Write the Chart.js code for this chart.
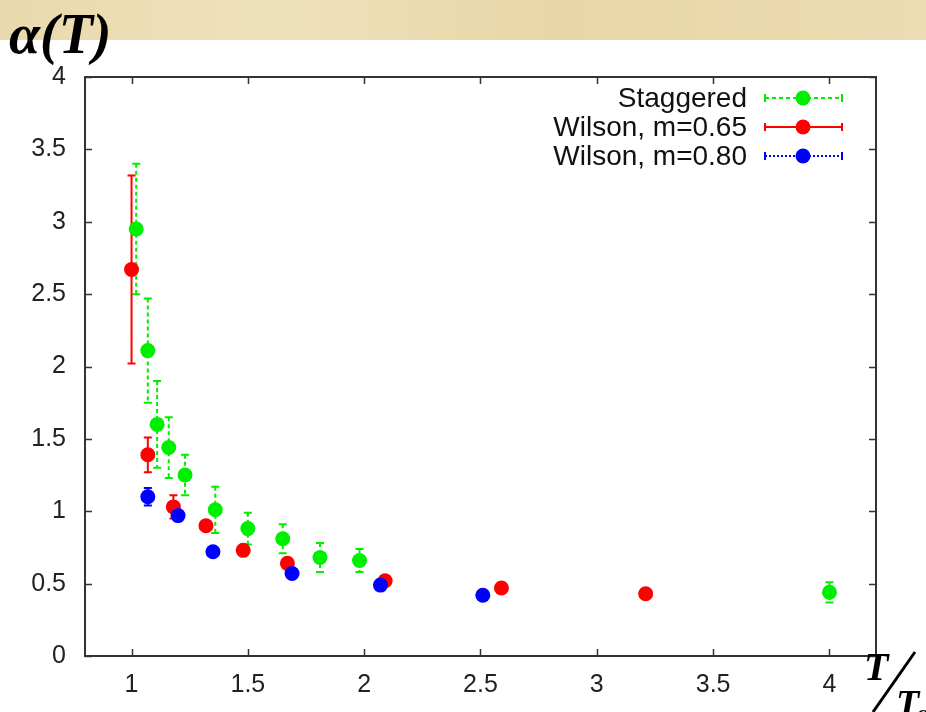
<!DOCTYPE html>
<html>
<head>
<meta charset="utf-8">
<script src="https://cdn.jsdelivr.net/npm/chart.js@4.4.1/dist/chart.umd.min.js"></script>
<style>
  html, body { margin: 0; padding: 0; background: #fff; }
  #wrap { position: relative; width: 926px; height: 712px; overflow: hidden; }
  #band {
    position: absolute; left: 0; top: 0; width: 926px; height: 40px;
    background: linear-gradient(90deg, #ead9ad 0%, #efe1ba 30%, #e8d6a7 60%, #eddcb2 100%);
  }
  #c { position: absolute; left: 0; top: 0; }
</style>
</head>
<body>
<div id="wrap">
  <div id="band"></div>
  <canvas id="c" width="926" height="712"></canvas>
</div>
<script>
"use strict";

// T/Tc values and alpha(T), symmetric errors
const stagT   = [1.02, 1.07, 1.11, 1.16, 1.23, 1.36, 1.50, 1.65, 1.81, 1.98, 4.00];
const stagA   = [2.95, 2.11, 1.60, 1.44, 1.25, 1.01, 0.88, 0.81, 0.68, 0.66, 0.44];
const stagErr = [0.45, 0.36, 0.30, 0.21, 0.14, 0.16, 0.11, 0.10, 0.10, 0.08, 0.07];

const wil65T   = [1.00, 1.07, 1.18, 1.32, 1.48, 1.67, 2.09, 2.59, 3.21];
const wil65A   = [2.67, 1.39, 1.03, 0.90, 0.73, 0.64, 0.52, 0.47, 0.43];
const wil65Err = [0.65, 0.12, 0.08, 0.03, 0.03, 0.03, 0.02, 0.02, 0.02];

const wil80T   = [1.07, 1.20, 1.35, 1.69, 2.07, 2.51];
const wil80A   = [1.10, 0.97, 0.72, 0.57, 0.49, 0.42];
const wil80Err = [0.06, 0.03, 0.02, 0.02, 0.02, 0.02];

const seriesLabels = ['Staggered', 'Wilson, m=0.65', 'Wilson, m=0.80'];
const xTicks = [1, 1.5, 2, 2.5, 3, 3.5, 4];
const yTicks = [0, 0.5, 1, 1.5, 2, 2.5, 3, 3.5, 4];

const GREEN = '#00ee00', RED = '#ff0000', BLUE = '#0000ff';
const dashes = [[4, 3], [], [2, 2]];

function pts(xs, ys, es) {
    return xs.map((x, i) => ({ x: x, y: ys[i], err: es[i] }));
}

// error bars under the points
const errorBars = {
    id: 'errorBars',
    beforeDatasetsDraw(chart) {
        const ctx = chart.ctx, xs = chart.scales.x, ys = chart.scales.y;
        chart.data.datasets.forEach((ds, di) => {
            ctx.save();
            ctx.strokeStyle = ds.backgroundColor;
            ctx.lineWidth = 2;
            ds.data.forEach(p => {
                const px = xs.getPixelForValue(p.x);
                const yt = ys.getPixelForValue(p.y + p.err);
                const yb = ys.getPixelForValue(p.y - p.err);
                ctx.setLineDash(dashes[di]);
                ctx.beginPath();
                ctx.moveTo(px, yt); ctx.lineTo(px, yb);
                ctx.stroke();
                ctx.setLineDash([]);
                ctx.beginPath();
                ctx.moveTo(px - 4, yt); ctx.lineTo(px + 4, yt);
                ctx.moveTo(px - 4, yb); ctx.lineTo(px + 4, yb);
                ctx.stroke();
            });
            ctx.restore();
        });
    }
};

// frame, mirrored inward ticks, legend, titles
const decor = {
    id: 'decor',
    afterDraw(chart) {
        const ctx = chart.ctx, a = chart.chartArea;
        const xs = chart.scales.x, ys = chart.scales.y;
        ctx.save();
        ctx.strokeStyle = '#333';
        ctx.lineWidth = 2;
        ctx.strokeRect(a.left, a.top, a.right - a.left, a.bottom - a.top);
        ctx.lineWidth = 1.5;
        ctx.beginPath();
        xTicks.forEach(v => {
            const px = Math.round(xs.getPixelForValue(v)) + 0.5;
            ctx.moveTo(px, a.bottom); ctx.lineTo(px, a.bottom - 7);
            ctx.moveTo(px, a.top); ctx.lineTo(px, a.top + 7);
        });
        yTicks.forEach(v => {
            const py = Math.round(ys.getPixelForValue(v)) + 0.5;
            ctx.moveTo(a.left, py); ctx.lineTo(a.left + 7, py);
            ctx.moveTo(a.right, py); ctx.lineTo(a.right - 7, py);
        });
        ctx.stroke();

        // legend
        ctx.font = '28px "Liberation Sans", Arial, sans-serif';
        ctx.textAlign = 'right';
        ctx.textBaseline = 'middle';
        chart.data.datasets.forEach((ds, i) => {
            const y = a.top + 21 + i * 29;
            const x0 = a.right - 111, x1 = a.right - 34, xm = a.right - 73;
            ctx.fillStyle = '#111';
            ctx.fillText(seriesLabels[i], a.right - 129, y + 1);
            ctx.strokeStyle = ds.backgroundColor;
            ctx.lineWidth = 2;
            ctx.setLineDash(dashes[i]);
            ctx.beginPath();
            ctx.moveTo(x0, y); ctx.lineTo(x1, y);
            ctx.stroke();
            ctx.setLineDash([]);
            ctx.beginPath();
            ctx.moveTo(x0, y - 4); ctx.lineTo(x0, y + 4);
            ctx.moveTo(x1, y - 4); ctx.lineTo(x1, y + 4);
            ctx.stroke();
            ctx.fillStyle = ds.backgroundColor;
            ctx.beginPath();
            ctx.arc(xm, y, 7.5, 0, Math.PI * 2);
            ctx.fill();
        });

        // alpha(T) title
        ctx.fillStyle = '#000';
        ctx.textAlign = 'left';
        ctx.textBaseline = 'alphabetic';
        ctx.font = 'italic bold 56px "Liberation Serif", "Times New Roman", serif';
        ctx.fillText('\u03b1(T)', 9, 53);

        // T / Tc axis label
        ctx.font = 'italic bold 40px "Liberation Serif", "Times New Roman", serif';
        ctx.fillText('T', 864, 680);
        ctx.font = 'italic bold 38px "Liberation Serif", "Times New Roman", serif';
        ctx.fillText('T', 896, 716);
        ctx.font = 'italic bold 22px "Liberation Serif", "Times New Roman", serif';
        ctx.fillText('c', 917, 720);
        ctx.strokeStyle = '#000';
        ctx.lineWidth = 3;
        ctx.beginPath();
        ctx.moveTo(915, 652); ctx.lineTo(873, 712);
        ctx.stroke();
        ctx.restore();
    }
};

const tickFont = { family: '"Liberation Sans", Arial, sans-serif', size: 25 };

new Chart(document.getElementById('c'), {
    type: 'scatter',
    data: {
        datasets: [
            { label: seriesLabels[0], data: pts(stagT, stagA, stagErr), backgroundColor: GREEN, order: 2 },
            { label: seriesLabels[1], data: pts(wil65T, wil65A, wil65Err), backgroundColor: RED, order: 1 },
            { label: seriesLabels[2], data: pts(wil80T, wil80A, wil80Err), backgroundColor: BLUE, order: 0 }
        ]
    },
    options: {
        responsive: false,
        animation: false,
        layout: { padding: { left: 0, top: 77, right: 50, bottom: 0 } },
        elements: { point: { radius: 7.5, borderWidth: 0, hoverRadius: 7.5 } },
        plugins: { legend: { display: false }, tooltip: { enabled: false } },
        scales: {
            x: {
                type: 'linear', min: 0.8, max: 4.2,
                grid: { display: false }, border: { display: false },
                afterBuildTicks: s => { s.ticks = xTicks.map(v => ({ value: v })); },
                afterFit: s => { s.height = 56; },
                ticks: { font: tickFont, color: '#222', padding: 6, maxRotation: 0,
                         callback: v => String(v) }
            },
            y: {
                type: 'linear', min: 0, max: 4,
                grid: { display: false }, border: { display: false },
                afterBuildTicks: s => { s.ticks = yTicks.map(v => ({ value: v })); },
                afterFit: s => { s.width = 85; },
                ticks: { font: tickFont, color: '#222', padding: 11,
                         callback: v => String(v) }
            }
        }
    },
    plugins: [errorBars, decor]
});
</script>
</body>
</html>
